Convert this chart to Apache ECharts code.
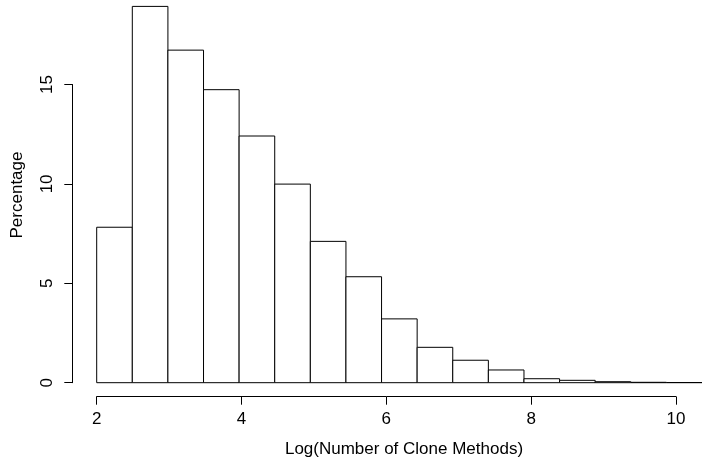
<!DOCTYPE html>
<html>
<head>
<meta charset="utf-8">
<script src="https://cdn.jsdelivr.net/npm/echarts@6/dist/echarts.min.js"></script>
<style>
  html, body { margin: 0; padding: 0; background: #fff; }
  #chart { width: 702px; height: 464px; }
</style>
</head>
<body>
<div id="chart"></div>
<script>
// histogram bins (log of clone method count) and their share in percent
const binStarts = [2, 2.5, 3, 3.5, 4, 4.5, 5, 5.5, 6, 6.5, 7, 7.5, 8, 8.5, 9, 9.5, 10];
const binEnds = [2.5, 3, 3.5, 4, 4.5, 5, 5.5, 6, 6.5, 7, 7.5, 8, 8.5, 9, 9.5, 10, 10.5];
const percentages = [7.82, 18.93, 16.73, 14.74, 12.41, 9.99, 7.11, 5.33, 3.21, 1.78, 1.13, 0.64, 0.2, 0.12, 0.05, 0.02, 0.01];
const xTicks = [2, 4, 6, 8, 10];
const yTicks = [0, 5, 10, 15];

const font = 'Liberation Sans, Arial, Helvetica, sans-serif';
const fontSize = 17;

const chart = echarts.init(document.getElementById('chart'), null, { renderer: 'canvas' });

const histData = binStarts.map((s, i) => [s, binEnds[i], percentages[i]]);

chart.setOption({
  animation: false,
  backgroundColor: '#fff',
  textStyle: { fontFamily: font },
  grid: [
    // bars
    { left: 96.7, width: 615.4, top: 5, height: 377.7 },
    // separate x axis below the bars (R style)
    { left: 96.7, width: 579.3, top: 390, height: 6.7 },
    // separate y axis left of the bars
    { left: 72.3, width: 1, top: 84.5, height: 298.2 }
  ],
  xAxis: [
    { gridIndex: 0, type: 'value', min: 2, max: 10.5, show: false },
    {
      gridIndex: 1, type: 'value', min: xTicks[0], max: xTicks[xTicks.length - 1], interval: 2,
      axisLine: { show: true, lineStyle: { color: '#000', width: 1 } },
      axisTick: { show: true, length: 8, lineStyle: { color: '#000' } },
      axisLabel: { color: '#000', fontSize: fontSize, fontFamily: font, margin: 14 },
      splitLine: { show: false }
    },
    { gridIndex: 2, type: 'value', min: 0, max: 1, show: false }
  ],
  yAxis: [
    { gridIndex: 0, type: 'value', min: 0, max: 19, show: false },
    { gridIndex: 1, type: 'value', min: 0, max: 1, show: false },
    {
      gridIndex: 2, type: 'value', min: yTicks[0], max: yTicks[yTicks.length - 1], interval: 5,
      position: 'left',
      axisLine: { show: true, lineStyle: { color: '#000', width: 1 } },
      axisTick: { show: true, length: 8, lineStyle: { color: '#000' } },
      axisLabel: { color: '#000', fontSize: fontSize, fontFamily: font, margin: 16, rotate: 90 },
      splitLine: { show: false }
    }
  ],
  series: [
    {
      type: 'custom',
      xAxisIndex: 0,
      yAxisIndex: 0,
      clip: false,
      data: histData,
      renderItem: function (params, api) {
        const top = api.coord([api.value(0), api.value(2)]);
        const bottom = api.coord([api.value(1), 0]);
        return {
          type: 'rect',
          shape: {
            x: top[0], y: top[1],
            width: bottom[0] - top[0], height: bottom[1] - top[1]
          },
          style: { fill: '#fff', stroke: '#000', lineWidth: 1 }
        };
      }
    }
  ],
  graphic: [
    {
      type: 'text', x: 404, y: 449.5,
      style: {
        text: 'Log(Number of Clone Methods)', fill: '#000',
        font: fontSize + 'px ' + font, textAlign: 'center', textVerticalAlign: 'middle'
      }
    },
    {
      type: 'text', x: 17.5, y: 195, rotation: Math.PI / 2,
      style: {
        text: 'Percentage', fill: '#000',
        font: fontSize + 'px ' + font, textAlign: 'center', textVerticalAlign: 'middle'
      }
    }
  ]
});

window.addEventListener('resize', () => chart.resize());
</script>
</body>
</html>
